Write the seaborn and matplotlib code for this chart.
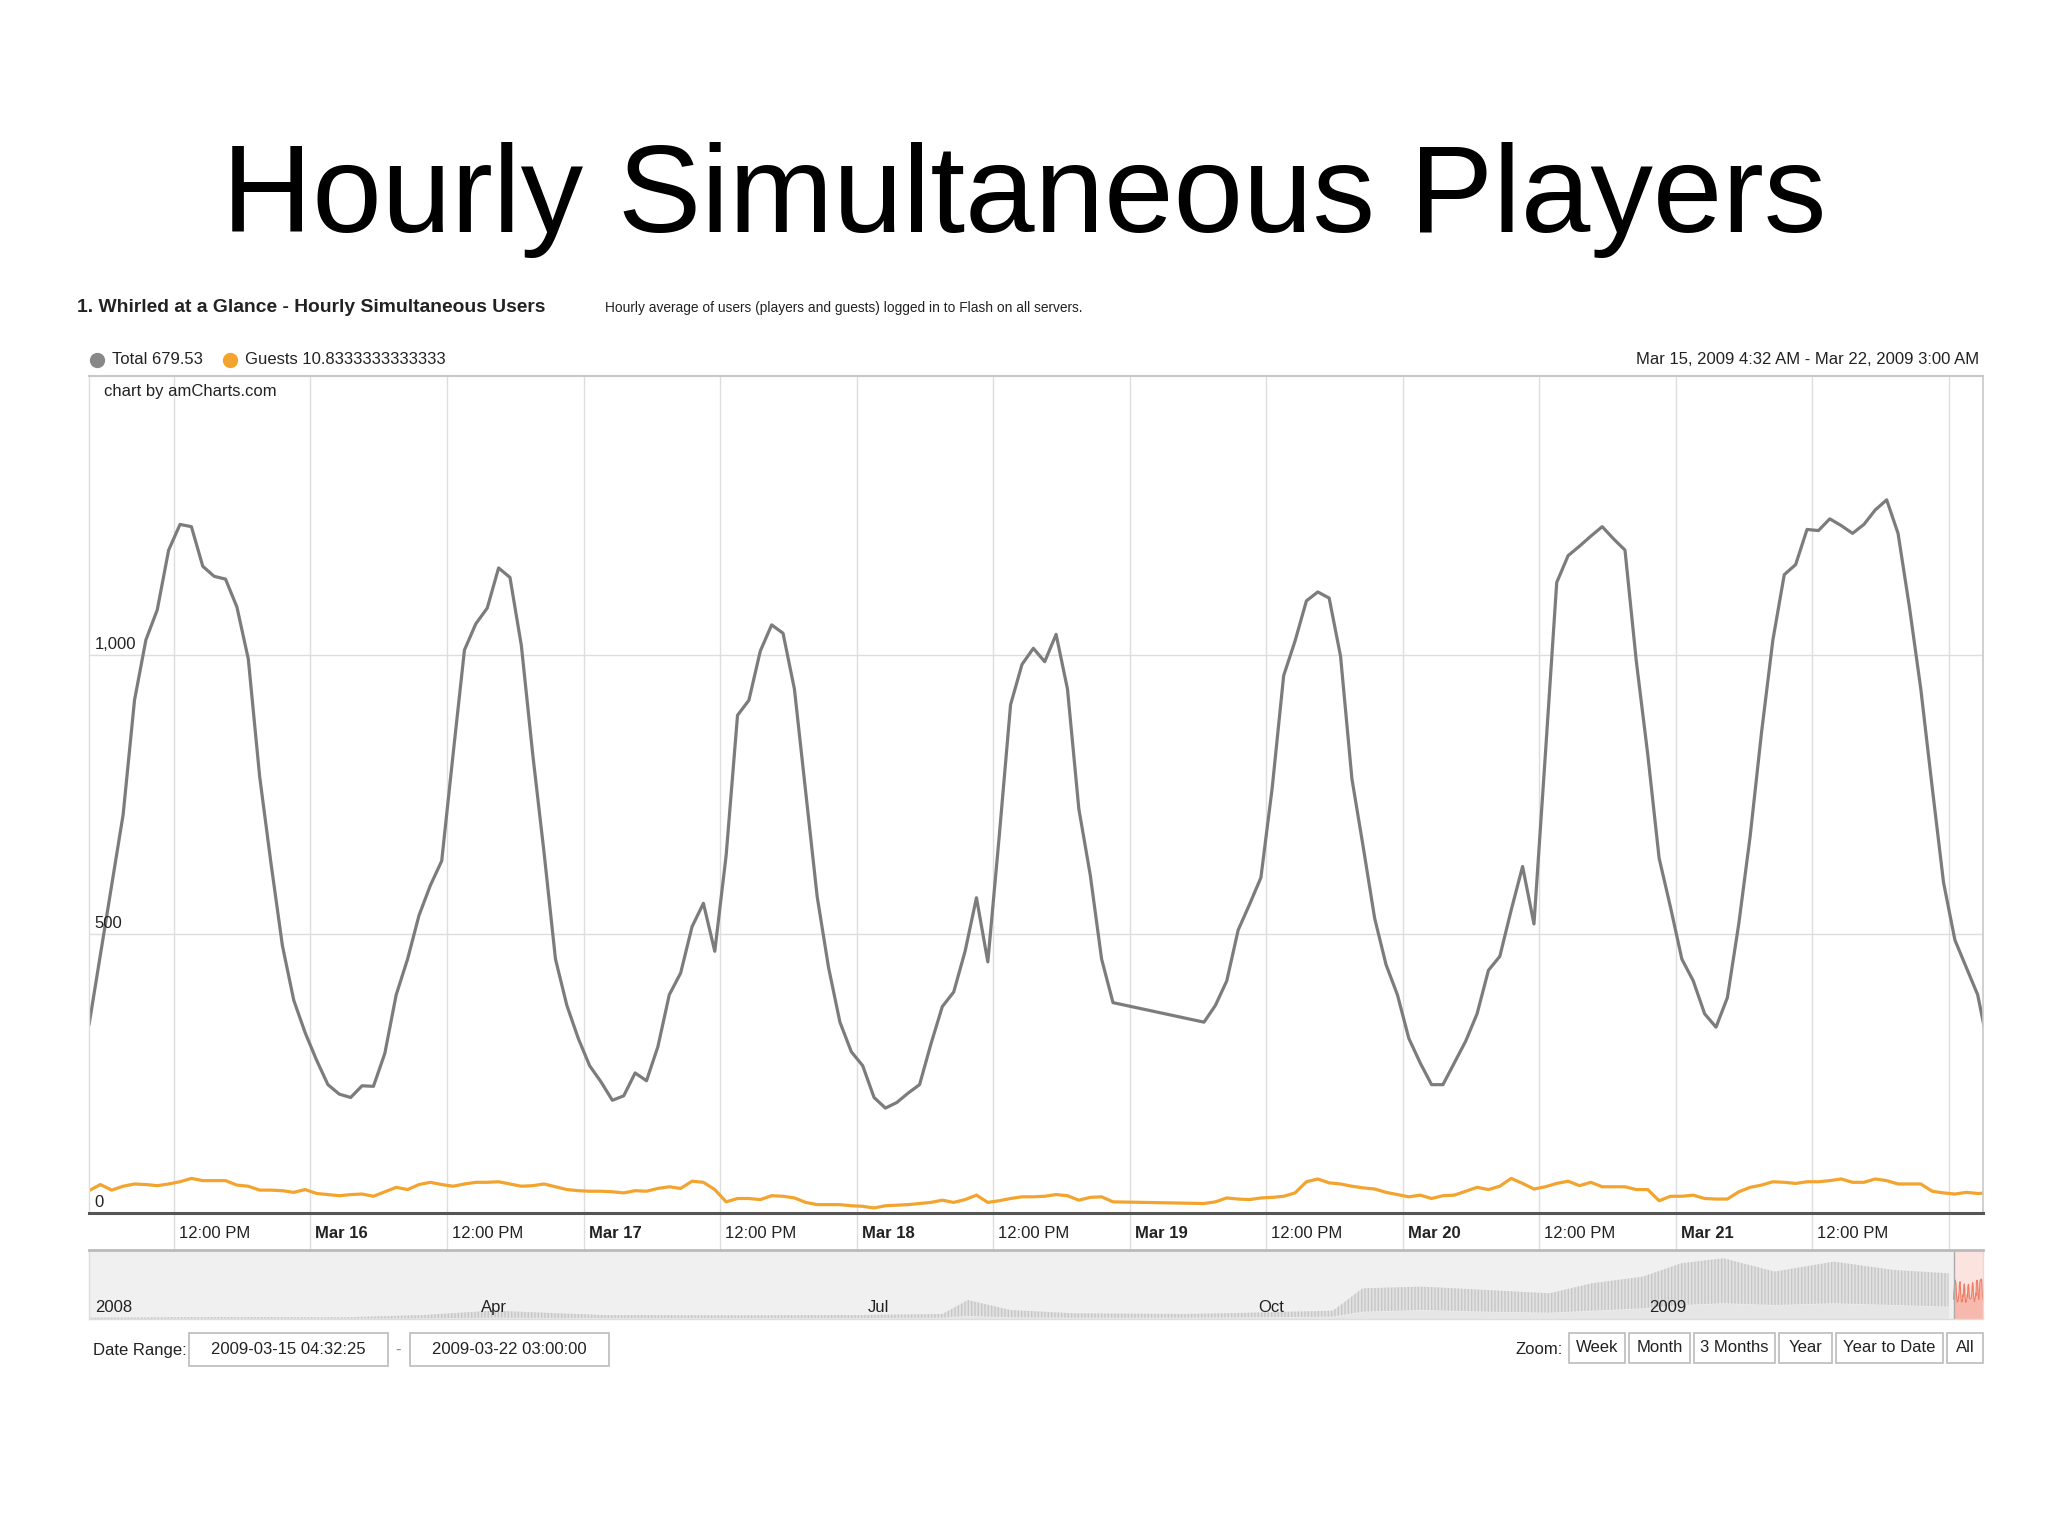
import pandas as pd
import seaborn as sns
import numpy as np
import matplotlib.pyplot as plt
import matplotlib.dates as mdates
import matplotlib.transforms as mtransforms
from matplotlib.patches import Rectangle
from matplotlib.lines import Line2D

# hourly averages, first point Mar 15 2009 04:32, one per hour (None = no data)
start = pd.Timestamp('2009-03-15 04:32')
total = [
    337, 463, 588, 714, 919, 1027, 1081, 1188, 1234, 1230, 1159, 1141, 1136, 1086, 993, 782, 626, 479, 381, 323,
    274, 230, 213, 207, 228, 227, 286, 391, 455, 533, 587, 631, 822, 1009, 1056, 1084, 1156, 1139, 1017, 822,
    645, 455, 372, 313, 264, 235, 202, 210, 251, 237, 298, 391, 430, 513, 555, 469, 641, 892, 919, 1007,
    1054, 1039, 939, 753, 567, 440, 342, 289, 264, 207, 188, 198, 215, 230, 303, 370, 396, 469, 565, 450,
    675, 911, 983, 1012, 988, 1037, 939, 724, 606, 455, 377, None, None, None, None, None, None, None, 342, 372,
    416, 507, 553, 601, 763, 963, 1025, 1097, 1113, 1102, 998, 778, 655, 528, 445, 391, 313, 269, 230, 230,
    269, 308, 357, 435, 460, 543, 621, 518, 821, 1130, 1178, 1195, 1213, 1230, 1208, 1188, 988, 822, 636, 548,
    455, 416, 357, 333, 386, 518, 675, 861, 1027, 1144, 1162, 1225, 1223, 1244, 1232, 1218, 1234, 1260, 1278, 1218,
    1086, 939, 763, 592, 489, 440, 391, 290,
]
guests = [
    40, 51, 41, 48, 52, 51, 49, 52, 56, 62, 58, 58, 58, 50, 48, 41, 41, 40, 37, 42,
    35, 33, 31, 33, 34, 30, 38, 46, 42, 51, 55, 51, 48, 52, 55, 55, 56, 52, 48, 49,
    52, 47, 42, 40, 39, 39, 38, 36, 40, 39, 44, 47, 44, 57, 55, 42, 20, 26, 26, 24,
    31, 30, 27, 19, 15, 15, 15, 13, 12, 9, 13, 14, 15, 17, 19, 23, 19, 24, 32, 19,
    22, 26, 29, 29, 30, 33, 31, 23, 28, 29, 20, None, None, None, None, None, None, None, 17, 20,
    27, 25, 24, 27, 28, 30, 36, 56, 61, 54, 52, 48, 45, 43, 37, 33, 29, 32, 26, 31,
    32, 39, 46, 42, 48, 62, 53, 43, 47, 53, 57, 49, 55, 47, 47, 47, 42, 42, 22, 30,
    30, 32, 26, 25, 25, 38, 46, 50, 56, 55, 53, 56, 56, 58, 61, 55, 55, 61, 58, 52,
    52, 52, 39, 36, 34, 37, 35, 36,
]

# navigator (whole history), rough envelope read off the strip
nav_dates = ['2008-01-01', '2008-02-01', '2008-03-01', '2008-03-20', '2008-04-05', '2008-05-01',
             '2008-06-01', '2008-07-01', '2008-07-20', '2008-07-26', '2008-08-05', '2008-08-20',
             '2008-09-15', '2008-10-01', '2008-10-20', '2008-10-27', '2008-11-10', '2008-11-25',
             '2008-12-10', '2008-12-20', '2009-01-01', '2009-01-10', '2009-01-20', '2009-02-01',
             '2009-02-15', '2009-03-01', '2009-03-14']
nav_low = [0, 9, 9, 19, 37, 28, 28, 28, 37, 84, 47, 37, 37, 47, 65, 205, 252, 205, 177, 233,
           299, 392, 439, 392, 439, 392, 345]
nav_high = [37, 56, 47, 112, 233, 112, 103, 112, 140, 532, 252, 159, 140, 177, 233, 858, 905, 812,
            718, 998, 1185, 1558, 1698, 1325, 1605, 1372, 1278]
nav_labels = ['2008', 'Apr', 'Jul', 'Oct', '2009']
nav_label_dates = ['2008-01-01', '2008-04-01', '2008-07-01', '2008-10-01', '2009-01-01']

zoom_buttons = ['Week', 'Month', '3 Months', 'Year', 'Year to Date', 'All']

times = pd.date_range(start, periods=len(total), freq='h')
df = pd.DataFrame({'time': times, 'Total': total, 'Guests': guests})
df = df.melt(id_vars='time', var_name='series', value_name='users').dropna()
df['users'] = df['users'].astype(float)

sns.set_theme(style='white')
plt.rcParams['font.family'] = ['Liberation Sans', 'DejaVu Sans']
plt.rcParams['hatch.linewidth'] = 1.0

W, H = 2048, 1536
fig = plt.figure(figsize=(20.48, 15.36), dpi=100)
fig.patch.set_facecolor('white')

def fx(px):
    return px / W

def fy(py):
    return 1 - py / H

gray = '#7c7c7c'
orange = '#f3a42e'
txt = '#222222'

fig.text(0.5, fy(232), 'Hourly Simultaneous Players', ha='center', va='baseline', fontsize=90, color='black')
fig.text(fx(77), fy(308), '1. Whirled at a Glance - Hourly Simultaneous Users', ha='left', va='center',
         fontsize=13.9, fontweight='bold', color=txt)
fig.text(fx(605), fy(308), 'Hourly average of users (players and guests) logged in to Flash on all servers.',
         ha='left', va='center', fontsize=9.9, color=txt)

# legend row
fig.add_artist(Line2D([fx(97)], [fy(360)], marker='o', markersize=10, color='#888888', transform=fig.transFigure))
fig.text(fx(112), fy(360), 'Total 679.53', ha='left', va='center', fontsize=12, color=txt)
fig.add_artist(Line2D([fx(230)], [fy(360)], marker='o', markersize=10, color=orange, transform=fig.transFigure))
fig.text(fx(245), fy(360), 'Guests 10.8333333333333', ha='left', va='center', fontsize=12, color=txt)
fig.text(fx(1979), fy(360), 'Mar 15, 2009 4:32 AM - Mar 22, 2009 3:00 AM', ha='right', va='center',
         fontsize=12, color=txt)

# main chart
ax = fig.add_axes([fx(89), fy(1213), fx(1983) - fx(89), fy(376) - fy(1213)])
sns.lineplot(data=df, x='time', y='users', hue='series', palette={'Total': gray, 'Guests': orange},
             estimator=None, sort=True, legend=False, linewidth=2.3, ax=ax)
x0 = mdates.date2num(start)
x1 = mdates.date2num(pd.Timestamp('2009-03-22 03:00'))
ax.set_xlim(x0, x1)
ax.set_ylim(0, 1500)
ax.set_xticks([])
ax.set_yticks([])
ax.set_xlabel('')
ax.set_ylabel('')
ax.set_facecolor('white')

for v in [500, 1000]:
    ax.axhline(v, color='#dddddd', lw=1, zorder=0)
band = 37 / 837
grid_times = pd.date_range('2009-03-15 12:00', '2009-03-22 00:00', freq='12h')
for t in grid_times:
    ax.axvline(mdates.date2num(t), ymin=-band, ymax=1, color='#dddddd', lw=1, zorder=0, clip_on=False)

for side, c, w in [('top', '#c8c8c8', 1.5), ('left', '#dddddd', 1), ('right', '#c8c8c8', 1.2), ('bottom', '#555555', 2.2)]:
    ax.spines[side].set_visible(True)
    ax.spines[side].set_color(c)
    ax.spines[side].set_linewidth(w)

ytr = mtransforms.blended_transform_factory(ax.transAxes, ax.transData)
for v, lab in [(0, '0'), (500, '500'), (1000, '1,000')]:
    ax.text(0.003, v + 5, lab, transform=ytr, ha='left', va='bottom', fontsize=12, color=txt)
ax.text(0.008, 0.982, 'chart by amCharts.com', transform=ax.transAxes, ha='left', va='center',
        fontsize=12, color=txt)

xtr = mtransforms.offset_copy(ax.get_xaxis_transform(), fig=fig, x=5, y=0, units='dots')
for t in grid_times[:-1]:
    if t.hour == 12:
        ax.text(mdates.date2num(t), -0.024, '12:00 PM', transform=xtr, ha='left', va='center',
                fontsize=12, color=txt)
    else:
        ax.text(mdates.date2num(t), -0.024, t.strftime('%b ') + str(t.day), transform=xtr, ha='left',
                va='center', fontsize=12, fontweight='bold', color=txt)

# navigator strip
nav = fig.add_axes([fx(89), fy(1319), fx(1983) - fx(89), fy(1250) - fy(1319)])
nav.set_facecolor('#f0f0f0')
nd = mdates.date2num(pd.to_datetime(nav_dates))
nav.fill_between(nd, nav_low, nav_high, facecolor='#e2e2e2', edgecolor='#c6c6c6', hatch='|||||', lw=0)
nav.fill_between(nd, 0, nav_low, color='#e6e6e6', lw=0)
week = df[df['series'] == 'Total']
wx = mdates.date2num(week['time'])
nav.axvspan(x0, x1, color='#fbe4df', lw=0)
nav.fill_between(wx, 0, week['users'] * 0.6 + 350, color='#f7b9ad', lw=0)
nav.plot(wx, week['users'] * 0.6 + 350, color='#ee7d68', lw=0.8)
nav.axvline(x0, color='#aaaaaa', lw=1)
nav.set_xlim(mdates.date2num(pd.Timestamp('2008-01-01')), x1)
nav.set_ylim(0, 1930)
nav.set_xticks([])
nav.set_yticks([])
for side in ['left', 'right', 'bottom']:
    nav.spines[side].set_color('#dddddd')
    nav.spines[side].set_linewidth(1)
nav.spines['top'].set_color('#bbbbbb')
nav.spines['top'].set_linewidth(2)
ntr = mtransforms.offset_copy(nav.get_xaxis_transform(), fig=fig, x=6, y=0, units='dots')
for d, lab in zip(nav_label_dates, nav_labels):
    nav.text(mdates.date2num(pd.Timestamp(d)), 0.16, lab, transform=ntr, ha='left', va='center',
             fontsize=12, color=txt)

# controls row
def box(x_left, x_right, y_top, y_bot, label):
    fig.add_artist(Rectangle((fx(x_left), fy(y_bot)), fx(x_right) - fx(x_left), fy(y_top) - fy(y_bot),
                             transform=fig.transFigure, facecolor='white', edgecolor='#bbbbbb', lw=1.2))
    fig.text((fx(x_left) + fx(x_right)) / 2, (fy(y_top) + fy(y_bot)) / 2, label, ha='center', va='center',
             fontsize=12, color=txt)

fig.text(fx(93), fy(1350), 'Date Range:', ha='left', va='center', fontsize=12, color=txt)
box(189, 388, 1333, 1366, '2009-03-15 04:32:25')
fig.text(fx(398), fy(1350), '-', ha='center', va='center', fontsize=12, color='#888888')
box(410, 609, 1333, 1366, '2009-03-22 03:00:00')

fig.text(fx(1563), fy(1350), 'Zoom:', ha='right', va='center', fontsize=12, color=txt)
btn_px = [(1569, 1625), (1629, 1690), (1694, 1775), (1779, 1832), (1836, 1943), (1947, 1983)]
for (a, b), lab in zip(btn_px, zoom_buttons):
    box(a, b, 1333, 1363, lab)

fig.savefig('out.png', dpi=100, facecolor='white')
